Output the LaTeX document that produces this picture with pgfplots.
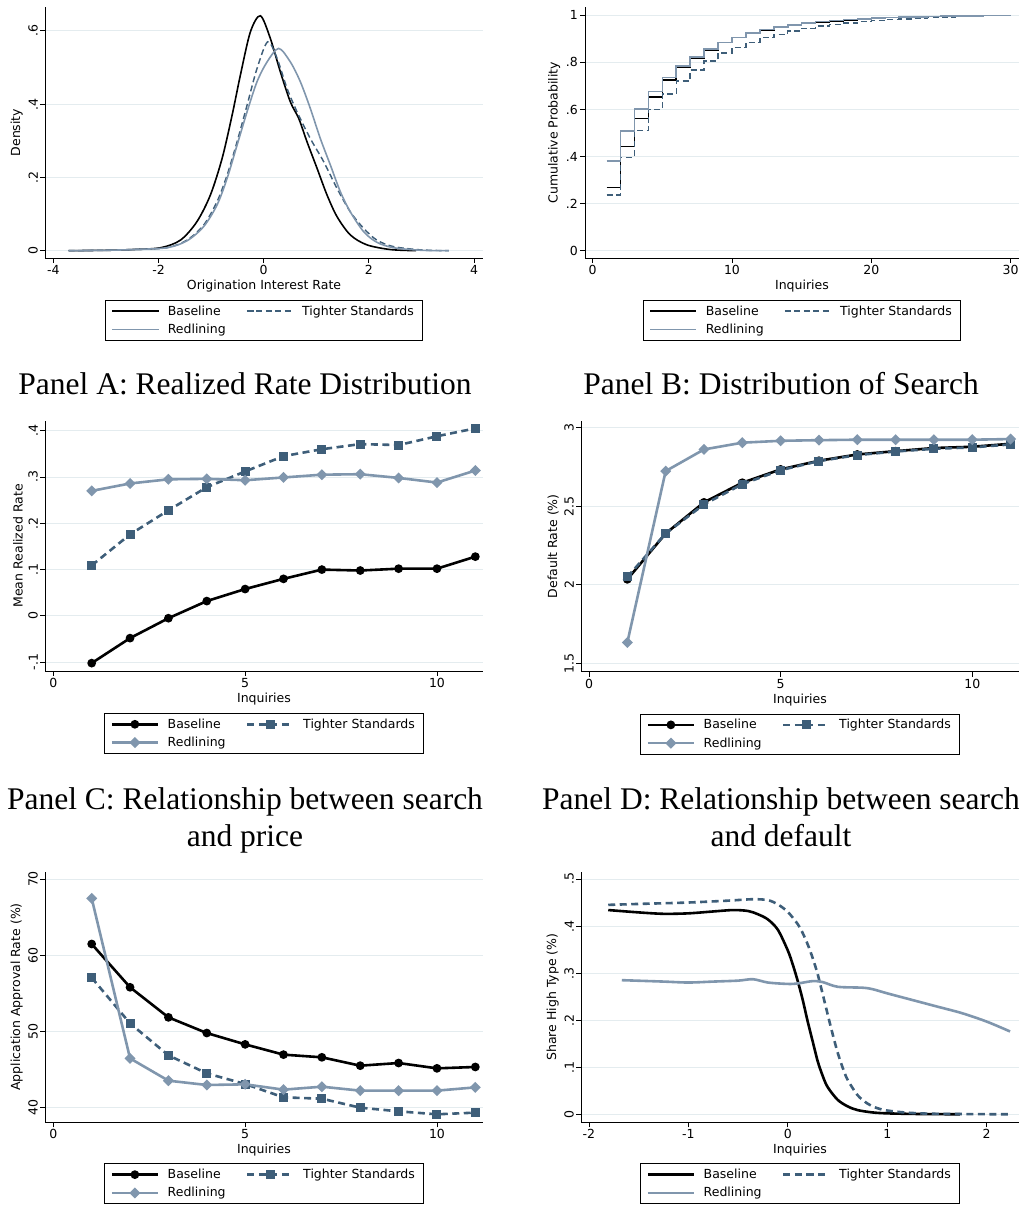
\documentclass[border=0pt]{standalone}
\usepackage{pgfplots}
\pgfplotsset{compat=1.18}
\usepackage{fontspec}
\setmainfont{DejaVu Sans}
\newfontfamily\titlefont{Liberation Serif}
\definecolor{tightc}{RGB}{62,94,121}
\definecolor{redlc}{RGB}{128,150,173}
\definecolor{gridc}{RGB}{228,236,239}
\newcommand{\sfont}{\fontsize{12.5}{15}\selectfont}
\newcommand{\tfont}{\titlefont\fontsize{31.5}{36.7}\selectfont}

\pgfplotsset{
  stata/.style={
    scale only axis,
    enlargelimits=false,
    axis x line*=bottom, axis y line*=left,
    axis line style={-, black, line width=0.9pt},
    tick align=outside,
    major tick length=5pt,
    tick style={black, line width=0.9pt},
    ymajorgrids,
    major grid style={gridc, line width=0.9pt},
    ticklabel style={font=\sfont},
    label style={font=\sfont},
    xticklabel style={inner sep=2pt},
    yticklabel style={inner sep=2pt},
    legend columns=2,
    legend cell align=left,
    legend style={draw=black, line width=0.9pt, font=\sfont, anchor=north,
      inner xsep=6pt, inner ysep=2.8pt, row sep=2.3pt, nodes={inner sep=2.5pt},
      /tikz/every odd column/.append style={column sep=6pt},
      /tikz/every even column/.append style={column sep=18pt}},
    legend image code/.code={\draw[mark repeat=2,mark phase=2,##1] plot coordinates {(0pt,0pt) (23pt,0pt) (46pt,0pt)};},
  },
  roty/.style={yticklabel style={rotate=90, anchor=south}},
  bthin/.style={black, line width=1.6pt},
  tthin/.style={tightc, line width=1.45pt, dash pattern=on 6pt off 3.5pt},
  rthin/.style={redlc, line width=1.6pt},
  bthick/.style={black, line width=2.6pt, mark=*, mark size=3pt},
  tthick/.style={tightc, line width=2.6pt, dash pattern=on 7pt off 4.5pt, mark=square*, mark size=3.2pt, mark options={solid}},
  rthick/.style={redlc, line width=2.6pt, mark=square*, mark size=2.6pt, mark options={rotate=45}},
  bline/.style={black, line width=2.6pt},
  tline/.style={tightc, line width=2.6pt, dash pattern=on 7pt off 4.5pt},
  rline/.style={redlc, line width=2.6pt},
}

\begin{document}
\begin{tikzpicture}

% ---------------- Panel A
\begin{axis}[stata, roty, at={(45pt,947pt)}, anchor=south west,
  width=438pt, height=251pt,
  xmin=-4.158, xmax=4.17, ymin=-0.02, ymax=0.665,
  xtick={-4,-2,0,2,4}, xticklabels={-4,-2,0,2,4},
  ytick={0,0.2,0.4,0.6}, yticklabels={0,.2,.4,.6},
  xlabel={Origination Interest Rate}, ylabel={Density},
  legend style={at={(0.5,-0.167)}}]
\addplot[bthin, smooth] coordinates {(-3.71,0) (-3,0.001) (-2.5,0.003) (-1.96,0.008) (-1.58,0.029) (-1.27,0.079) (-1.013,0.152) (-0.79,0.252) (-0.60,0.37) (-0.443,0.479) (-0.253,0.597) (-0.063,0.641) (0.127,0.579) (0.317,0.488) (0.507,0.406) (0.666,0.361) (0.824,0.297) (1.014,0.225) (1.204,0.152) (1.394,0.093) (1.647,0.043) (1.96,0.016) (2.41,0.003) (2.9,0)};
\addlegendentry{Baseline}
\addplot[tthin, smooth] coordinates {(-3.71,0) (-3,0.001) (-2.5,0.003) (-1.84,0.008) (-1.457,0.029) (-1.14,0.07) (-0.886,0.134) (-0.696,0.206) (-0.506,0.297) (-0.316,0.397) (-0.127,0.497) (0.076,0.570) (0.254,0.525) (0.444,0.443) (0.634,0.379) (0.887,0.306) (1.14,0.243) (1.394,0.17) (1.647,0.106) (1.9,0.061) (2.15,0.029) (2.47,0.011) (3,0.002) (3.52,0)};
\addlegendentry{Tighter Standards}
\addplot[rthin, smooth] coordinates {(-3.71,0) (-3,0.001) (-2.5,0.003) (-1.84,0.008) (-1.457,0.027) (-1.14,0.066) (-0.886,0.125) (-0.696,0.197) (-0.506,0.288) (-0.316,0.379) (-0.127,0.461) (0.064,0.515) (0.285,0.552) (0.507,0.515) (0.697,0.461) (0.887,0.388) (1.077,0.306) (1.267,0.234) (1.457,0.161) (1.647,0.106) (1.9,0.052) (2.15,0.023) (2.47,0.008) (3,0.001) (3.52,0)};
\addlegendentry{Redlining}
\end{axis}

% ---------------- Panel B
\begin{axis}[stata, at={(585pt,947pt)}, anchor=south west,
  width=434pt, height=250.7pt,
  xmin=-0.55, xmax=30.6, ymin=-0.031, ymax=1.034,
  xtick={0,10,20,30}, xticklabels={0,10,20,30},
  ytick={0,0.2,0.4,0.6,0.8,1}, yticklabels={0,.2,.4,.6,.8,1},
  xlabel={Inquiries}, ylabel={Cumulative Probability},
  legend style={at={(0.5,-0.167)}}]
\addplot[bthin, const plot] coordinates {(1,0.269) (2,0.442) (3,0.562) (4,0.654) (5,0.725) (6,0.778) (7,0.817) (8,0.853) (9,0.884) (10,0.905) (11,0.923) (12,0.938) (13,0.949) (14,0.959) (15,0.966) (16,0.972) (17,0.977) (18,0.981) (19,0.985) (20,0.988) (21,0.990) (22,0.992) (23,0.994) (24,0.995) (25,0.996) (26,0.997) (27,0.998) (28,0.999) (29,0.999) (30,1)};
\addlegendentry{Baseline}
\addplot[tthin, const plot] coordinates {(1,0.237) (2,0.397) (3,0.51) (4,0.60) (5,0.666) (6,0.721) (7,0.768) (8,0.806) (9,0.839) (10,0.863) (11,0.885) (12,0.905) (13,0.919) (14,0.933) (15,0.945) (16,0.955) (17,0.962) (18,0.967) (19,0.973) (20,0.977) (21,0.982) (22,0.985) (23,0.987) (24,0.990) (25,0.993) (26,0.995) (27,0.997) (28,0.998) (29,0.999) (30,1)};
\addlegendentry{Tighter Standards}
\addplot[rthin, const plot] coordinates {(1,0.38) (2,0.508) (3,0.602) (4,0.676) (5,0.735) (6,0.785) (7,0.824) (8,0.857) (9,0.884) (10,0.906) (11,0.924) (12,0.939) (13,0.950) (14,0.960) (15,0.967) (16,0.973) (17,0.978) (18,0.982) (19,0.985) (20,0.988) (21,0.990) (22,0.992) (23,0.994) (24,0.995) (25,0.996) (26,0.997) (27,0.998) (28,0.999) (29,0.999) (30,1)};
\addlegendentry{Redlining}
\end{axis}

% ---------------- Panel C
\begin{axis}[stata, roty, at={(45pt,534pt)}, anchor=south west,
  width=438pt, height=250.3pt,
  xmin=-0.217, xmax=11.2, ymin=-0.119, ymax=0.4216,
  xtick={0,5,10}, xticklabels={0,5,10},
  ytick={-0.1,0,0.1,0.2,0.3,0.4}, yticklabels={-.1,0,.1,.2,.3,.4},
  xlabel={Inquiries}, ylabel={Mean Realized Rate},
  legend style={at={(0.5,-0.168)}}]
\addplot[bthick] coordinates {(1,-0.102) (2,-0.048) (3,-0.005) (4,0.032) (5,0.058) (6,0.080) (7,0.100) (8,0.098) (9,0.102) (10,0.102) (11,0.128)};
\addlegendentry{Baseline}
\addplot[tthick] coordinates {(1,0.109) (2,0.176) (3,0.228) (4,0.278) (5,0.312) (6,0.345) (7,0.360) (8,0.371) (9,0.369) (10,0.388) (11,0.405)};
\addlegendentry{Tighter Standards}
\addplot[rthick] coordinates {(1,0.270) (2,0.286) (3,0.295) (4,0.296) (5,0.293) (6,0.299) (7,0.305) (8,0.306) (9,0.298) (10,0.288) (11,0.314)};
\addlegendentry{Redlining}
\end{axis}

% ---------------- Panel D
\begin{axis}[stata, roty, at={(581pt,533.3pt)}, anchor=south west,
  width=438pt, height=251pt,
  xmin=-0.209, xmax=11.22, ymin=1.447, ymax=3.045,
  xtick={0,5,10}, xticklabels={0,5,10},
  ytick={1.5,2,2.5,3}, yticklabels={1.5,2,2.5,3},
  xlabel={Inquiries}, ylabel={Default Rate (\%)},
  legend style={at={(0.5,-0.167)}}]
\addplot[bthick] coordinates {(1,2.035) (2,2.327) (3,2.525) (4,2.65) (5,2.735) (6,2.79) (7,2.83) (8,2.851) (9,2.871) (10,2.879) (11,2.898)};
\addlegendentry{Baseline}
\addplot[tthick] coordinates {(1,2.05) (2,2.327) (3,2.512) (4,2.641) (5,2.73) (6,2.788) (7,2.826) (8,2.849) (9,2.866) (10,2.875) (11,2.894)};
\addlegendentry{Tighter Standards}
\addplot[rthick] coordinates {(1,1.633) (2,2.724) (3,2.862) (4,2.905) (5,2.917) (6,2.921) (7,2.924) (8,2.924) (9,2.924) (10,2.924) (11,2.928)};
\addlegendentry{Redlining}
\end{axis}

% ---------------- Panel E
\begin{axis}[stata, roty, at={(45pt,82.7pt)}, anchor=south west,
  width=438pt, height=250.6pt,
  xmin=-0.217, xmax=11.2, ymin=38.03, ymax=70.96,
  xtick={0,5,10}, xticklabels={0,5,10},
  ytick={40,50,60,70}, yticklabels={40,50,60,70},
  xlabel={Inquiries}, ylabel={Application Approval Rate (\%)},
  legend style={at={(0.5,-0.164)}}]
\addplot[bthick] coordinates {(1,61.46) (2,55.77) (3,51.82) (4,49.76) (5,48.27) (6,46.92) (7,46.57) (8,45.47) (9,45.82) (10,45.12) (11,45.3)};
\addlegendentry{Baseline}
\addplot[tthick] coordinates {(1,57.03) (2,51.03) (3,46.83) (4,44.46) (5,43.06) (6,41.31) (7,41.13) (8,39.95) (9,39.47) (10,39.08) (11,39.3)};
\addlegendentry{Tighter Standards}
\addplot[rthick] coordinates {(1,67.46) (2,46.43) (3,43.5) (4,42.93) (5,43.02) (6,42.32) (7,42.71) (8,42.19) (9,42.19) (10,42.19) (11,42.62)};
\addlegendentry{Redlining}
\end{axis}

% ---------------- Panel F
\begin{axis}[stata, roty, at={(581pt,82.7pt)}, anchor=south west,
  width=438pt, height=250.6pt,
  xmin=-2.08, xmax=2.325, ymin=-0.017, ymax=0.5155,
  xtick={-2,-1,0,1,2}, xticklabels={-2,-1,0,1,2},
  ytick={0,0.1,0.2,0.3,0.4,0.5}, yticklabels={0,.1,.2,.3,.4,.5},
  xlabel={Inquiries}, ylabel={Share High Type (\%)},
  legend style={at={(0.5,-0.164)}}]
\addplot[bline, smooth] coordinates {(-1.806,0.434) (-1.5,0.429) (-1.25,0.426) (-1,0.427) (-0.75,0.431) (-0.55,0.434) (-0.4,0.432) (-0.3,0.425) (-0.2,0.414) (-0.1,0.392) (0,0.348) (0.05,0.318) (0.1,0.283) (0.15,0.243) (0.2,0.197) (0.25,0.155) (0.3,0.113) (0.35,0.082) (0.4,0.058) (0.5,0.031) (0.6,0.017) (0.7,0.009) (0.85,0.004) (1.0,0.002) (1.3,0.0007) (1.73,0)};
\addlegendentry{Baseline}
\addplot[tline, smooth] coordinates {(-1.806,0.445) (-1.5,0.447) (-1,0.45) (-0.6,0.454) (-0.35,0.457) (-0.2,0.455) (-0.1,0.446) (0,0.43) (0.1,0.404) (0.15,0.385) (0.2,0.361) (0.25,0.332) (0.3,0.298) (0.35,0.256) (0.4,0.213) (0.45,0.171) (0.5,0.132) (0.55,0.100) (0.6,0.074) (0.7,0.041) (0.8,0.023) (0.9,0.013) (1.0,0.008) (1.2,0.0035) (1.5,0.001) (2.25,0)};
\addlegendentry{Tighter Standards}
\addplot[rline, smooth] coordinates {(-1.67,0.285) (-1.25,0.282) (-1,0.28) (-0.75,0.282) (-0.5,0.284) (-0.35,0.287) (-0.2,0.28) (0,0.277) (0.1,0.278) (0.25,0.283) (0.35,0.281) (0.5,0.271) (0.75,0.269) (0.85,0.266) (1.0,0.257) (1.25,0.243) (1.5,0.229) (1.75,0.215) (2.0,0.197) (2.235,0.176)};
\addlegendentry{Redlining}
\end{axis}

% ---------------- Titles
\node[font=\tfont, anchor=base, inner sep=0pt] at (245pt,810pt) {Panel A: Realized Rate Distribution};
\node[font=\tfont, anchor=base, inner sep=0pt] at (781pt,810pt) {Panel B: Distribution of Search};
\node[font=\tfont, anchor=base, inner sep=0pt] at (245pt,395pt) {Panel C: Relationship between search};
\node[font=\tfont, anchor=base, inner sep=0pt] at (245pt,358.3pt) {and price};
\node[font=\tfont, anchor=base, inner sep=0pt, overlay] at (781pt,395pt) {Panel D: Relationship between search};
\node[font=\tfont, anchor=base, inner sep=0pt] at (781pt,358.3pt) {and default};

\pgfresetboundingbox
\path[use as bounding box] (0pt,0pt) rectangle (1019pt,1205pt);
\end{tikzpicture}
\end{document}
